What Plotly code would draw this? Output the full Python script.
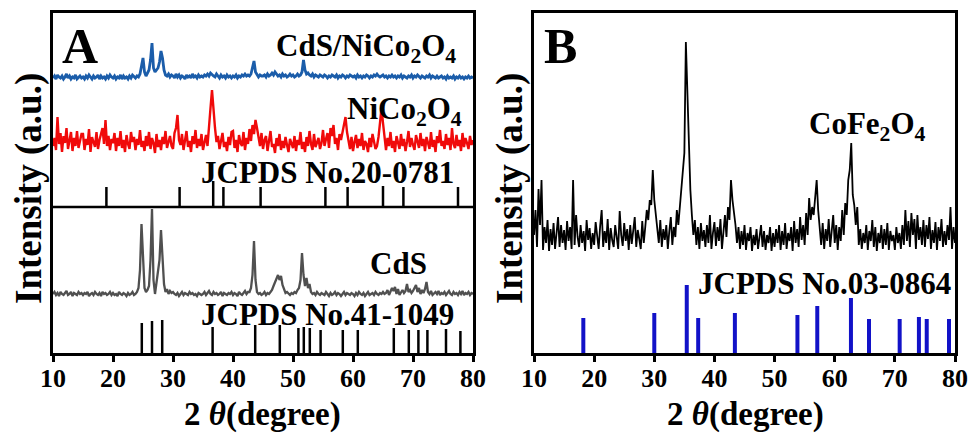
import numpy as np
import plotly.graph_objects as go

W, H = 969, 435
FONT = "Liberation Serif"

# ---------------- data ----------------
two_theta = np.round(np.arange(10, 80.001, 0.25), 2)

cds_nico_counts = [
    10,12,9,13,11,10,12,9,11,14,10,12,9,11,10,13,9,11,12,10,
    11,9,12,10,13,11,9,12,10,11,13,9,12,10,11,9,12,10,13,11,
    10,12,9,11,10,13,9,12,10,11,9,12,10,13,11,10,12,11,14,22,
    30,16,12,15,18,28,45,20,16,18,20,26,37,30,18,13,12,14,11,13,
    12,10,14,11,13,10,12,11,9,13,11,12,10,14,11,12,10,13,11,12,
    11,13,12,14,12,15,13,12,11,14,12,10,13,11,12,10,13,11,12,10,
    12,11,13,10,12,11,13,12,14,12,13,12,14,20,27,16,13,11,13,12,
    12,13,11,14,12,13,15,13,16,14,12,13,11,14,12,13,11,12,14,12,
    13,11,12,14,12,13,16,28,18,14,15,13,12,14,11,13,12,11,13,12,
    11,13,12,10,12,11,13,12,11,13,10,12,11,13,12,10,12,11,13,12,
    11,12,10,13,11,12,10,12,11,13,12,10,12,11,13,12,14,12,11,12,
    13,11,12,10,12,11,13,11,12,10,12,11,13,10,12,11,10,12,11,13,
    10,12,11,13,11,10,12,11,10,12,11,13,10,12,11,10,12,10,11,12,
    10,11,9,12,10,11,10,12,9,11,10,12,10,11,9,11,10,12,10,11,
    10]

nico_counts = [
    12,20,8,41,14,25,6,22,15,30,9,18,26,7,20,12,27,10,17,24,
    24,8,19,13,29,6,21,16,11,26,9,18,23,30,14,38,12,22,8,19,
    15,25,7,20,12,27,10,18,6,23,14,9,26,16,21,8,19,13,28,11,
    17,7,22,12,26,9,20,15,5,24,11,18,8,21,14,27,10,16,22,12,
    9,25,30,43,18,13,24,8,20,27,11,17,6,22,14,28,10,19,12,24,
    8,17,23,12,35,50,68,45,30,16,22,9,19,25,11,16,7,21,13,26,
    27,10,18,6,23,15,12,26,8,20,14,29,17,33,24,38,30,20,12,25,
    9,18,22,7,16,27,11,14,5,20,12,24,8,17,10,21,13,6,19,15,
    10,22,7,18,13,26,9,16,6,21,12,27,14,8,24,11,17,20,9,15,
    28,12,19,25,10,30,22,33,14,20,8,24,18,26,31,41,26,15,9,21,
    7,16,23,10,19,12,25,8,17,14,6,20,11,24,16,9,12,21,35,50,
    35,20,8,20,12,26,10,17,6,22,14,9,24,12,19,7,16,27,11,20,
    13,8,23,16,10,25,12,19,7,21,14,9,26,11,18,6,22,15,28,12,
    17,9,24,13,20,8,30,14,10,23,12,18,7,25,11,20,15,9,22,13,
    18]

cds_counts = [
    6,8,5,7,4,8,6,5,7,9,5,6,8,4,7,6,5,8,6,7,
    5,7,6,8,4,6,7,5,8,6,5,7,4,8,6,7,5,6,8,5,
    7,5,6,4,8,6,5,7,6,4,7,5,6,8,5,6,8,12,30,76,
    35,12,8,10,14,40,91,20,6,18,32,40,70,48,16,8,11,6,9,7,
    8,6,5,7,4,6,8,5,7,6,5,8,6,7,5,6,4,7,6,5,
    6,8,5,7,9,6,5,8,6,7,5,6,8,4,7,6,5,7,6,8,
    5,7,6,4,8,6,5,7,9,6,8,8,12,25,59,20,8,6,7,5,
    6,8,5,7,6,8,10,14,18,22,25,20,24,15,10,7,8,6,5,7,
    6,8,7,10,12,20,47,25,14,22,12,16,8,6,7,5,8,6,5,7,
    6,5,8,6,4,7,5,6,8,5,7,6,4,6,8,5,7,6,5,7,
    6,4,7,5,8,6,5,7,4,6,8,5,6,7,5,8,6,5,7,6,
    8,6,7,10,5,8,12,9,13,6,11,5,8,10,7,9,16,8,10,7,
    9,12,15,8,12,6,10,7,11,18,8,6,9,5,7,8,6,9,5,7,
    6,8,5,7,9,6,5,8,6,7,5,8,6,9,5,7,6,8,5,7,
    6]

cofe_counts = [
    20,45,8,66,30,75,5,28,12,35,4,26,10,32,6,22,38,8,30,12,
    25,5,34,14,28,6,75,10,40,18,8,30,12,24,4,35,15,27,6,22,
    10,33,16,6,29,45,8,24,12,36,5,27,15,8,30,18,6,44,20,9,
    32,14,26,5,30,11,22,38,8,25,16,6,34,12,28,45,35,55,50,85,
    55,40,28,12,35,8,26,15,30,6,24,38,10,28,18,45,30,50,60,85,
    102,213,168,102,65,40,20,35,10,28,6,32,14,25,8,30,12,40,6,22,
    33,9,28,14,36,6,25,40,18,48,35,75,55,45,30,12,28,6,24,10,
    30,5,22,14,28,4,20,10,26,6,18,30,8,24,5,20,12,28,4,22,
    8,26,12,30,5,24,10,32,6,22,14,28,4,34,12,26,8,38,15,30,
    10,42,20,57,35,48,40,60,75,45,28,10,32,6,26,14,36,8,24,40,
    12,30,5,28,14,45,20,52,40,75,85,112,60,50,30,48,10,26,6,22,
    12,30,5,24,14,35,8,28,4,22,12,30,6,26,10,32,5,24,14,20,
    5,28,12,22,6,30,10,45,14,34,8,42,20,36,6,40,15,28,10,35,
    8,30,16,38,6,25,12,33,5,28,14,36,8,24,10,30,15,48,6,28,
    12]

nico_ref_pos = [18.9, 31.1, 36.7, 38.4, 44.6, 55.4, 59.1, 65.0, 68.4, 77.5]
nico_ref_int = [20, 20, 26, 20, 20, 20, 20, 21, 20, 20]

cds_ref_pos = [24.8, 26.5, 28.2, 36.6, 43.7, 47.8, 50.9, 51.8, 52.8, 54.6,
               58.3, 60.8, 66.8, 69.3, 70.9, 72.4, 75.5, 77.9]
cds_ref_int = [30, 32, 33, 26, 28, 28, 25, 26, 25, 23, 23, 23, 25, 23, 23, 23, 24, 22]

cofe_ref_pos = [18.2, 30.0, 35.4, 37.3, 43.4, 53.8, 57.1, 62.7, 65.7, 70.8, 74.0, 75.3, 79.0]
cofe_ref_int = [35, 40, 68, 35, 40, 38, 47, 55, 34, 34, 36, 34, 34]

tick_vals = [10, 20, 30, 40, 50, 60, 70, 80]

for arr in (cds_nico_counts, nico_counts, cds_counts, cofe_counts):
    assert len(arr) == len(two_theta), len(arr)

# ---------------- layout constants ----------------
OFF_BLUE, OFF_RED, OFF_GRAY, OFF_BLACK = 265, 195, 53, 98
STICK_BASE_NICO, STICK_BASE_CDS, STICK_BASE_COFE = 146, 0, 0


def shifted(vals, off):
    return [v + off for v in vals]


def sticks(pos, hts, base):
    xs, ys = [], []
    for p, h in zip(pos, hts):
        xs += [p, p, None]
        ys += [base, base + h, None]
    return xs, ys


fig = go.Figure()

# Panel A
fig.add_trace(go.Scatter(x=two_theta, y=shifted(cds_nico_counts, OFF_BLUE), mode="lines",
                         line=dict(color="#1B5DAA", width=2.8), xaxis="x", yaxis="y"))
fig.add_trace(go.Scatter(x=two_theta, y=shifted(nico_counts, OFF_RED), mode="lines",
                         line=dict(color="#F00A0A", width=2.4), xaxis="x", yaxis="y"))
fig.add_trace(go.Scatter(x=two_theta, y=shifted(cds_counts, OFF_GRAY), mode="lines",
                         line=dict(color="#505050", width=2.3), xaxis="x", yaxis="y"))
sx, sy = sticks(nico_ref_pos, nico_ref_int, STICK_BASE_NICO)
fig.add_trace(go.Scatter(x=sx, y=sy, mode="lines", line=dict(color="black", width=2.5),
                         xaxis="x", yaxis="y"))
sx, sy = sticks(cds_ref_pos, cds_ref_int, STICK_BASE_CDS)
fig.add_trace(go.Scatter(x=sx, y=sy, mode="lines", line=dict(color="black", width=2.5),
                         xaxis="x", yaxis="y"))

# Panel B
fig.add_trace(go.Scatter(x=two_theta, y=shifted(cofe_counts, OFF_BLACK), mode="lines",
                         line=dict(color="black", width=1.8), xaxis="x2", yaxis="y2"))
sx, sy = sticks(cofe_ref_pos, cofe_ref_int, STICK_BASE_COFE)
fig.add_trace(go.Scatter(x=sx, y=sy, mode="lines", line=dict(color="#1212C8", width=4),
                         xaxis="x2", yaxis="y2"))


def px(x):
    return x / W


def py(y):
    return 1 - y / H


ydom = [py(353), py(13)]
xaxis_common = dict(range=[10, 80], showline=True, mirror=True, linecolor="black", linewidth=2.5,
                    ticks="outside", ticklen=6, tickwidth=2.5, tickcolor="black",
                    tickvals=tick_vals, ticktext=["<b>%d</b>" % v for v in tick_vals],
                    showgrid=False, zeroline=False, automargin=False, ticklabelstandoff=-6,
                    tickfont=dict(family=FONT, size=26, color="black"))
yaxis_common = dict(range=[0, 340], showline=True, mirror=True, linecolor="black", linewidth=2.5,
                    ticks="", showticklabels=False, showgrid=False, zeroline=False,
                    automargin=False, domain=ydom)

fig.update_layout(
    width=W, height=H, margin=dict(l=0, r=0, t=0, b=0),
    paper_bgcolor="white", plot_bgcolor="white", showlegend=False,
    font=dict(family=FONT, color="black"),
    xaxis=dict(domain=[px(53), px(473)], anchor="y", **xaxis_common),
    yaxis=dict(anchor="x", **yaxis_common),
    xaxis2=dict(domain=[px(534), px(955)], anchor="y2", **xaxis_common),
    yaxis2=dict(anchor="x2", **yaxis_common),
)

fig.add_shape(type="line", xref="x domain", yref="y", x0=0, x1=1, y0=146, y1=146,
              line=dict(color="black", width=2.5))


def ann(text, x, y, size=30, xanchor="center", angle=0):
    fig.add_annotation(text="<b>" + text + "</b>", x=px(x), y=py(y), xref="paper", yref="paper",
                       xanchor=xanchor, yanchor="middle", showarrow=False, textangle=angle,
                       font=dict(family=FONT, size=size, color="black"))


ann("A", 80, 46, size=50)
ann("B", 560, 46, size=50)
ann("CdS/NiCo<sub>2</sub>O<sub>4</sub>", 458, 48, size=31, xanchor="right")
ann("NiCo<sub>2</sub>O<sub>4</sub>", 464, 111, size=31, xanchor="right")
ann("JCPDS No.20-0781", 456, 172, size=31, xanchor="right")
ann("CdS", 398, 263, size=31)
ann("JCPDS No.41-1049", 456, 314, size=31, xanchor="right")
ann("CoFe<sub>2</sub>O<sub>4</sub>", 928, 126, size=31, xanchor="right")
ann("JCPDS No.03-0864", 953, 283, size=31, xanchor="right")

ann("2 <i>θ</i>(degree)", 262, 414, size=33)
ann("2 <i>θ</i>(degree)", 745, 414, size=33)
ann("Intensity (a.u.)", 29, 189, size=37, angle=-90)
ann("Intensity (a.u.)", 510, 189, size=37, angle=-90)

fig.write_html("out.html")
